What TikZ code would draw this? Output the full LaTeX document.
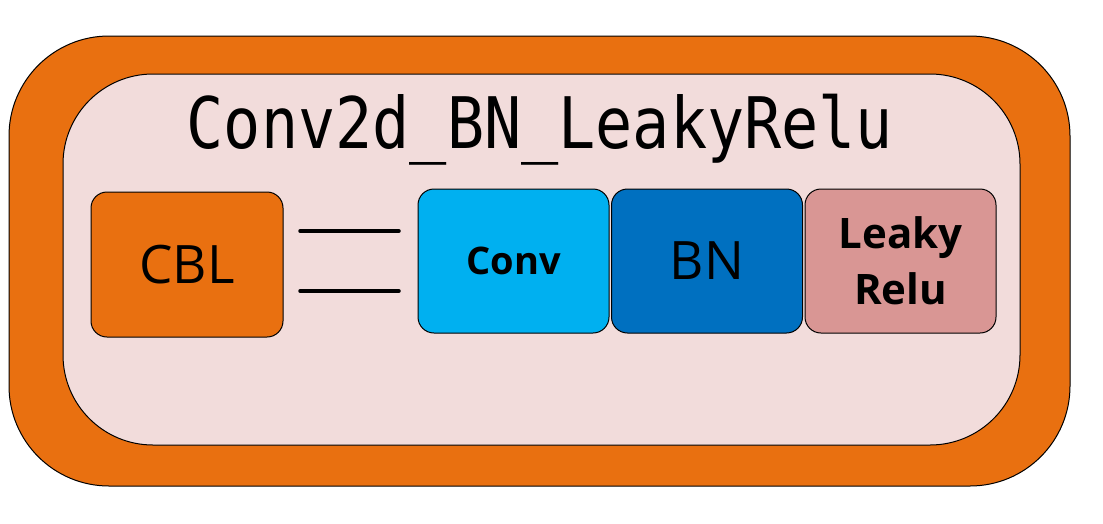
\documentclass[tikz,border=0pt]{standalone}
\usepackage{fontspec}
\usepackage{graphicx}
\setmainfont{Open Sans}[BoldFont={Open Sans Bold}]
\newfontfamily\monof{DejaVu Sans Mono}
\definecolor{orng}{HTML}{E97010}
\definecolor{pinkbg}{HTML}{F2DCDB}
\definecolor{convc}{HTML}{00B0F0}
\definecolor{bnc}{HTML}{0070C0}
\definecolor{leakc}{HTML}{D99694}
\tikzset{
  blk/.style={draw=black, line width=1pt, rounded corners=16pt, minimum width=191pt, minimum height=144pt, inner sep=0pt, align=center, text=black},
  link/.style={draw=black, line width=3.5pt, line cap=round}
}
\begin{document}
\begin{tikzpicture}[x=1pt,y=-1pt]
\useasboundingbox (0,0) rectangle (1103,523);
\fill[white] (0,0) rectangle (1103,523);
\draw[fill=orng, line width=1pt, rounded corners=100pt] (9,36) rectangle (1070,486);
\draw[fill=pinkbg, line width=1pt, rounded corners=90pt] (63,74) rectangle (1020,445);
\node[anchor=base, inner sep=0pt] (title) at (540,148) {\scalebox{0.895}[1.03]{\fontsize{69}{70}\selectfont\monof Conv2d\_BN\_LeakyRelu}};
\node[blk, fill=orng, minimum width=192pt, minimum height=145pt, font=\fontsize{53}{60}\selectfont] (cbl) at (187,264.5) {CBL};
\node[blk, fill=convc, font=\bfseries\fontsize{38}{44}\selectfont] (conv) at (513.5,261) {Conv};
\node[blk, fill=bnc, font=\fontsize{53}{60}\selectfont] (bn) at (707,261) {BN};
\node[blk, fill=leakc, font=\bfseries\fontsize{42}{56}\selectfont] (leaky) at (900.5,261) {Leaky\\Relu};
\coordinate (a1) at (300,231);
\coordinate (a2) at (399,231);
\coordinate (b1) at (300,291);
\coordinate (b2) at (399,291);
\draw[link] (a1) -- (a2);
\draw[link] (b1) -- (b2);
\end{tikzpicture}
\end{document}
